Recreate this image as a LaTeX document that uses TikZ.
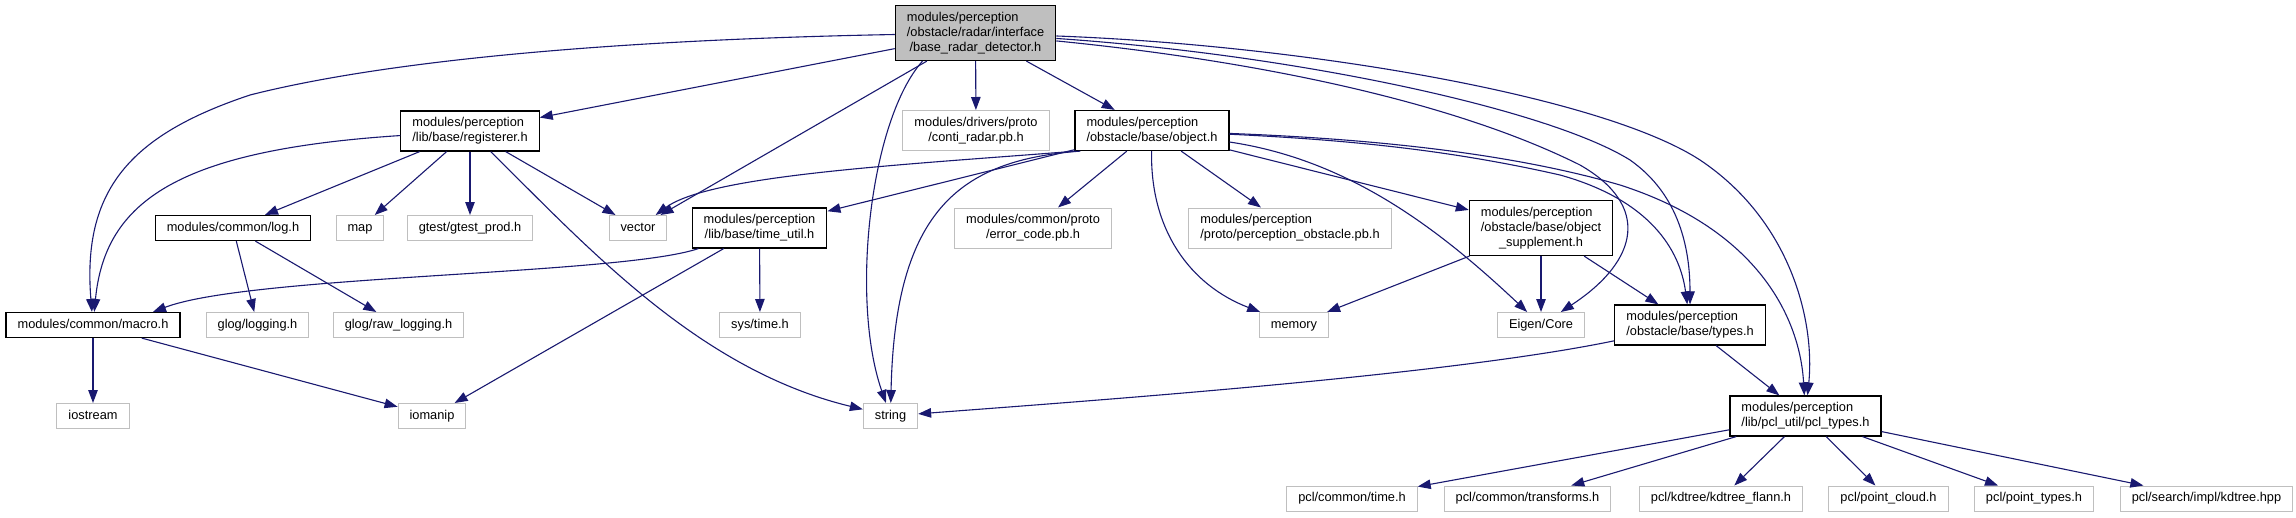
\documentclass[tikz,border=0pt]{standalone}
\usepackage{fontspec}
\setmainfont{Liberation Sans}
\usetikzlibrary{arrows.meta}

\definecolor{midnight}{RGB}{25,25,112}
\definecolor{grey75}{RGB}{191,191,191}

% labels: leading lines left aligned, last line centred
\newcommand{\onel}[1]{\begin{tabular}{@{}c@{}}#1\end{tabular}}
\newcommand{\twol}[2]{\begin{tabular}{@{}l@{}}#1\\\multicolumn{1}{@{}c@{}}{#2}\end{tabular}}
\newcommand{\threel}[3]{\begin{tabular}{@{}l@{}}#1\\#2\\\multicolumn{1}{@{}c@{}}{#3}\end{tabular}}

\begin{document}
\begin{tikzpicture}[x=1pt, y=-1pt,
    filebox/.style={draw=black, line width=1.2pt, fill=white, inner xsep=11.5pt, inner ysep=5pt,
                    font=\fontsize{12.8}{15}\selectfont},
    extbox/.style={filebox, draw=grey75, line width=1pt},
    mainbox/.style={filebox, fill=grey75},
    dep/.style={draw=midnight, line width=1.1pt, -{Triangle[length=13pt,width=9.5pt]}}]

    % Canvas
    \path[fill=white, use as bounding box] (0,0) rectangle (2296,517);

    % Rank 0
    \node[mainbox] (root) at (975.5,33) {\threel{modules/perception}{/obstacle/radar/interface}{/base\_radar\_detector.h}};

    % Rank 1
    \node[filebox] (reg)   at (470,131)   {\twol{modules/perception}{/lib/base/registerer.h}};
    \node[extbox]  (conti) at (976,130.5) {\twol{modules/drivers/proto}{/conti\_radar.pb.h}};
    \node[filebox] (obj)   at (1152,130.5) {\twol{modules/perception}{/obstacle/base/object.h}};

    % Rank 2
    \node[filebox] (logh)  at (233,228)  {\onel{modules/common/log.h}};
    \node[extbox]  (map)   at (360,228)  {\onel{map}};
    \node[extbox]  (gtest) at (470,228)  {\onel{gtest/gtest\_prod.h}};
    \node[extbox]  (vec)   at (638,228)  {\onel{vector}};
    \node[filebox] (tutil) at (759.5,228) {\twol{modules/perception}{/lib/base/time\_util.h}};
    \node[extbox]  (errc)  at (1033,228) {\twol{modules/common/proto}{/error\_code.pb.h}};
    \node[extbox]  (pobs)  at (1290,228) {\twol{modules/perception}{/proto/perception\_obstacle.pb.h}};
    \node[filebox] (supp)  at (1541,228) {\threel{modules/perception}{/obstacle/base/object}{\_supplement.h}};

    % Rank 3
    \node[filebox] (macro)   at (93,325)    {\onel{modules/common/macro.h}};
    \node[extbox]  (glog)    at (257.5,325) {\onel{glog/logging.h}};
    \node[extbox]  (rawlog)  at (398.5,325) {\onel{glog/raw\_logging.h}};
    \node[extbox]  (systime) at (760,325)   {\onel{sys/time.h}};
    \node[extbox]  (mem)     at (1294,325)  {\onel{memory}};
    \node[extbox]  (eigen)   at (1541,325)  {\onel{Eigen/Core}};
    \node[filebox] (types)   at (1690,325)  {\twol{modules/perception}{/obstacle/base/types.h}};

    % Rank 4
    \node[extbox]  (iostr)    at (93,416)     {\onel{iostream}};
    \node[extbox]  (iomanip)  at (432,416)    {\onel{iomanip}};
    \node[extbox]  (str)      at (890.5,416)  {\onel{string}};
    \node[filebox] (pcltypes) at (1805.5,416) {\twol{modules/perception}{/lib/pcl\_util/pcl\_types.h}};

    % Rank 5
    \node[extbox] (pcltime)  at (1352,498.5)   {\onel{pcl/common/time.h}};
    \node[extbox] (transf)   at (1527.5,498.5) {\onel{pcl/common/transforms.h}};
    \node[extbox] (kdflann)  at (1721,498.5)   {\onel{pcl/kdtree/kdtree\_flann.h}};
    \node[extbox] (ptcloud)  at (1888.5,498.5) {\onel{pcl/point\_cloud.h}};
    \node[extbox] (pttypes)  at (2034,498.5)   {\onel{pcl/point\_types.h}};
    \node[extbox] (kdsearch) at (2206.5,498.5) {\onel{pcl/search/impl/kdtree.hpp}};

    % Includes of the radar detector
    \draw[dep] (root) .. controls (600,40) and (380,62) .. (250,95) .. controls (130,135) and (82,190) .. (macro);
    \draw[dep] (root) -- (reg);
    \draw[dep] (root) -- (vec);
    \draw[dep] ([xshift=-53]root.south) .. controls (870,120) and (850,300) .. (str);
    \draw[dep] (root) -- (conti);
    \draw[dep] (root) -- (obj);
    \draw[dep] (root) .. controls (1250,60) and (1450,100) .. (1580,165) .. controls (1650,205) and (1640,260) .. (eigen);
    \draw[dep] (root) .. controls (1300,55) and (1550,110) .. (1630,160) .. controls (1680,195) and (1690,250) .. (types);
    \draw[dep] (root) .. controls (1300,45) and (1600,95) .. (1700,160) .. controls (1790,220) and (1815,320) .. (pcltypes);

    % registerer.h
    \draw[dep] (reg) .. controls (180,150) and (105,200) .. (macro);
    \draw[dep] (reg) -- (logh);
    \draw[dep] (reg) -- (map);
    \draw[dep] (reg) -- (gtest);
    \draw[dep] (reg) -- (vec);
    \draw[dep] (reg) .. controls (590,250) and (700,370) .. (str);

    % log.h
    \draw[dep] (logh) -- (glog);
    \draw[dep] (logh) -- (rawlog);

    % time_util.h
    \draw[dep] (tutil) .. controls (620,275) and (250,275) .. ([xshift=60]macro.north);
    \draw[dep] (tutil) -- (iomanip);
    \draw[dep] (tutil) -- (systime);

    % macro.h
    \draw[dep] (macro) -- (iostr);
    \draw[dep] (macro) -- (iomanip);

    % object.h
    \draw[dep] ([xshift=2]obj.south west) .. controls (900,165) and (710,175) .. (vec);
    \draw[dep] (obj) -- (tutil);
    \draw[dep] ([xshift=6]obj.south west) .. controls (960,160) and (895,210) .. (str);
    \draw[dep] (obj) -- (errc);
    \draw[dep] (obj) -- (pobs);
    \draw[dep] (obj) .. controls (1150,230) and (1190,285) .. (mem);
    \draw[dep] (obj) -- (supp);
    \draw[dep] (obj) .. controls (1350,160) and (1440,230) .. (eigen);
    \draw[dep] (obj) .. controls (1350,140) and (1450,150) .. (1560,175) .. controls (1650,200) and (1680,250) .. (types);
    \draw[dep] (obj) .. controls (1350,138) and (1500,150) .. (1620,185) .. controls (1760,230) and (1800,320) .. (pcltypes);

    % object_supplement.h
    \draw[dep] (supp) -- (mem);
    \draw[dep] (supp) -- (eigen);
    \draw[dep] (supp) -- (types);

    % types.h
    \draw[dep] (types) .. controls (1450,375) and (1100,400) .. (str);
    \draw[dep] (types) -- (pcltypes);

    % pcl_types.h
    \foreach \t in {pcltime,transf,kdflann,ptcloud,pttypes,kdsearch}
        \draw[dep] (pcltypes) -- (\t);

\end{tikzpicture}
\end{document}
